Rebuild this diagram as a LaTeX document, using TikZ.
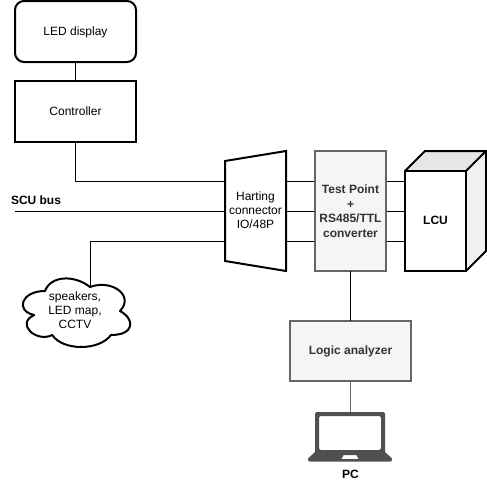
\documentclass[tikz,border=0pt]{standalone}
\usepackage{fontspec}
\setmainfont{Liberation Sans}
\definecolor{boxgrey}{HTML}{F5F5F5}
\definecolor{edgegrey}{HTML}{666666}
\definecolor{textgrey}{HTML}{333333}
\definecolor{lapgrey}{HTML}{505050}
\definecolor{cubetop}{HTML}{E6E6E6}
\definecolor{cubeside}{HTML}{F1F1F1}
\tikzset{
  blackbox/.style={draw=black,line width=2pt,fill=white,inner sep=0pt,outer sep=0pt,align=center,font=\fontsize{12}{14}\selectfont},
  greybox/.style={draw=edgegrey,line width=2pt,fill=boxgrey,inner sep=0pt,outer sep=0pt,align=center,text=textgrey,font=\fontsize{12}{14.5}\selectfont\bfseries},
  plainlabel/.style={inner sep=0pt,outer sep=0pt,align=center,font=\fontsize{12}{14}\selectfont},
  boldlabel/.style={inner sep=0pt,outer sep=0pt,align=center,font=\fontsize{12}{14}\selectfont\bfseries},
  wire/.style={draw=black,line width=1pt},
  greywire/.style={draw=edgegrey,line width=1pt},
  outline/.style={draw=black,line width=2pt,line join=miter}
}
\begin{document}
\begin{tikzpicture}[x=1pt,y=-1pt]
\useasboundingbox (0,0) rectangle (487,482);
% anchor points on the shapes drawn directly
\coordinate (harttop) at (225,181);
\coordinate (hartmid) at (225,211);
\coordinate (hartlow) at (225,241);
\coordinate (hartrtop) at (286,181);
\coordinate (hartrmid) at (286,211);
\coordinate (hartrlow) at (286,241);
\coordinate (testltop) at (315,181);
\coordinate (testlmid) at (315,211);
\coordinate (testllow) at (315,241);
\coordinate (testrtop) at (386,181);
\coordinate (testrmid) at (386,211);
\coordinate (testrlow) at (386,241);
\coordinate (lcutop) at (405,181);
\coordinate (lcumid) at (405,211);
\coordinate (lculow) at (405,241);
\coordinate (busend) at (15,211);
\coordinate (cloudtop) at (90,287);
\coordinate (laptoptop) at (350.5,412);
% connectors
\node[blackbox,rounded corners=9pt,minimum width=121pt,minimum height=61pt,text depth=0pt] (led) at (75.5,31.5) {\raisebox{1pt}{LED display}};
\node[blackbox,minimum width=121pt,minimum height=61pt] (ctrl) at (75.5,111.5) {\raisebox{1pt}{Controller}};
\draw[wire] (led) -- (ctrl);
\draw[wire] (ctrl.south) |- (harttop);
\draw[wire] (busend) -- (hartmid);
\draw[wire] (hartlow) -| (cloudtop);
\draw[wire] (hartrtop) -- (testltop);
\draw[wire] (hartrmid) -- (testlmid);
\draw[wire] (hartrlow) -- (testllow);
\draw[wire] (testrtop) -- (lcutop);
\draw[wire] (testrmid) -- (lcumid);
\draw[wire] (testrlow) -- (lculow);
% Harting connector
\draw[outline,fill=white] (225,161) -- (286,151) -- (286,271) -- (225,261) -- cycle;
\node[plainlabel] (harting) at (255.5,210.5) {Harting\\connector\\IO/48P};
% test point
\node[greybox,minimum width=71pt,minimum height=120pt] (test) at (350.5,211) {Test Point\\+\\RS485/TTL\\converter};
% LCU cube
\fill[cubetop] (405,171) -- (425,151) -- (486,151) -- (466,171) -- cycle;
\fill[cubeside] (466,171) -- (486,151) -- (486,251) -- (466,271) -- cycle;
\draw[outline,fill=white] (405,171) rectangle (466,271);
\draw[outline] (405,171) -- (425,151) -- (486,151) -- (486,251) -- (466,271);
\draw[outline] (466,171) -- (486,151);
\node[boldlabel] (lcu) at (435.5,220) {LCU};
% logic analyzer
\node[greybox,minimum width=121pt,minimum height=60pt] (logic) at (350.5,351) {Logic analyzer};
\draw[wire] (test.south) -- (logic.north);
\draw[greywire] (logic.south) -- (laptoptop);
% SCU label
\node[boldlabel,anchor=west] (scu) at (11,200) {SCU bus};
% cloud
\begin{scope}[shift={(15,271)},x=120pt,y=-80pt]
\draw[outline,fill=white,line join=round]
 (0.25,0.25) .. controls (0.05,0.25) and (0,0.5) .. (0.16,0.55)
 .. controls (0,0.66) and (0.18,0.9) .. (0.31,0.8)
 .. controls (0.4,1) and (0.7,1) .. (0.8,0.8)
 .. controls (1,0.8) and (1,0.6) .. (0.875,0.5)
 .. controls (1,0.3) and (0.8,0.1) .. (0.625,0.2)
 .. controls (0.5,0.05) and (0.3,0.05) .. (0.25,0.25) -- cycle;
\end{scope}
\node[plainlabel] (cloudtext) at (75,310) {speakers,\\LED map,\\CCTV};
% laptop
\fill[lapgrey,even odd rule,rounded corners=2pt] (315,453.5) -- (315,412) -- (385,412) -- (385,453.5) -- cycle (319,416) rectangle (381,450);
\fill[lapgrey,even odd rule] (315,452) -- (385,452) -- (392,458.5) [rounded corners=1.5pt] -- (392,461.5) -- (308,461.5) [sharp corners] -- (308,458.5) -- cycle
 (343.5,455) -- (356.5,455) -- (358.5,459) -- (341.5,459) -- cycle;
\node[boldlabel] (pc) at (350.5,474.5) {PC};
\end{tikzpicture}
\end{document}
